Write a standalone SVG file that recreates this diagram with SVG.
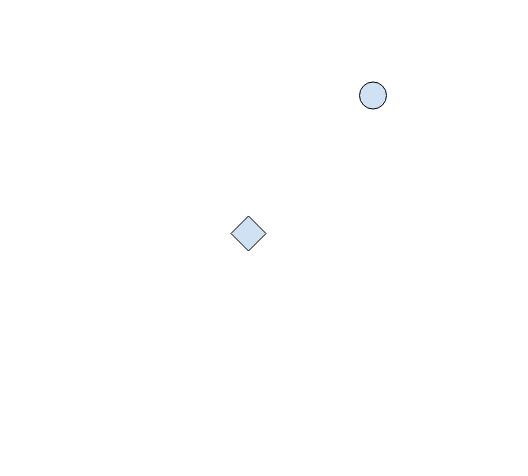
<svg xmlns="http://www.w3.org/2000/svg" width="528" height="476" viewBox="0 0 528 476">
<style>
.shape{fill:#cfe2f3;stroke:#000;stroke-width:1}
</style>
<rect width="528" height="476" fill="#fff"/>
<g id="connectors"></g>
<g id="node-circle"><circle class="shape" cx="373" cy="95.5" r="13.5"/></g>
<g id="node-diamond"><polygon class="shape" points="248.5,216 266,233.5 248.5,251 231,233.5"/></g>
</svg>
